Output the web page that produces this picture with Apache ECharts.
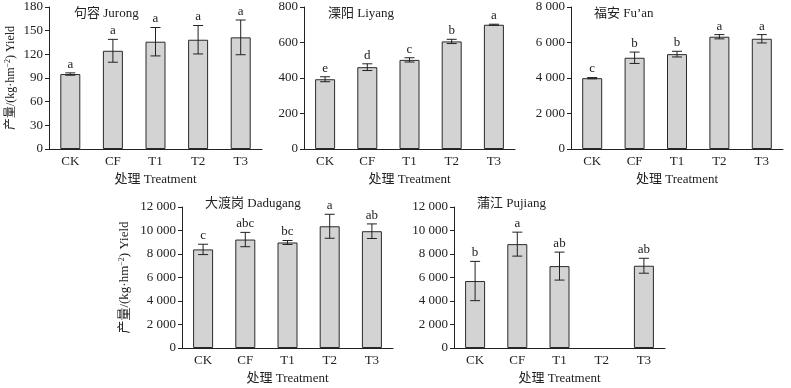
<!DOCTYPE html>
<html>
<head>
<meta charset="utf-8">
<script src="https://cdn.jsdelivr.net/npm/echarts@6/dist/echarts.min.js"></script>
<style>
  html, body { margin: 0; padding: 0; background: #fff; }
  #chart { width: 791px; height: 388px; }
</style>
</head>
<body>
<div id="chart"></div>
<script>
const categories = ["CK", "CF", "T1", "T2", "T3"];

// 句容 Jurong
const jurongMean = [95, 124.5, 136, 138.5, 141.5];
const jurongErr = [1.5, 14.5, 18, 18, 22];
const jurongSig = ["a", "a", "a", "a", "a"];

// 溧阳 Liyang
const liyangMean = [393, 461, 502, 606, 700];
const liyangErr = [14, 19, 12, 12, 3];
const liyangSig = ["e", "d", "c", "b", "a"];

// 福安 Fu'an
const fuanMean = [3990, 5140, 5345, 6325, 6210];
const fuanErr = [35, 320, 160, 120, 235];
const fuanSig = ["c", "b", "b", "a", "a"];

// 大渡岗 Dadugang
const dadugangMean = [8390, 9230, 8980, 10360, 9940];
const dadugangErr = [440, 610, 170, 1020, 620];
const dadugangSig = ["c", "abc", "bc", "a", "ab"];

// 蒲江 Pujiang (no T2)
const pujiangMean = [5700, 8840, 6970, null, 7000];
const pujiangErr = [1670, 1020, 1190, null, 635];
const pujiangSig = ["b", "a", "ab", "", "ab"];

const FONT = "'Liberation Serif', 'Noto Sans CJK SC', serif";
const INK = "#222";

const panels = [
  { title: "句容 Jurong", mean: jurongMean, err: jurongErr, sig: jurongSig, max: 180, interval: 30,
    grid: { left: 49, top: 7, width: 213, height: 142 }, titlePos: [74, 7], yName: 12 },
  { title: "溧阳 Liyang", mean: liyangMean, err: liyangErr, sig: liyangSig, max: 800, interval: 200,
    grid: { left: 304, top: 7, width: 211, height: 142 }, titlePos: [328, 7] },
  { title: "福安 Fu’an", mean: fuanMean, err: fuanErr, sig: fuanSig, max: 8000, interval: 2000,
    grid: { left: 571, top: 7, width: 212, height: 142 }, titlePos: [594, 7] },
  { title: "大渡岗 Dadugang", mean: dadugangMean, err: dadugangErr, sig: dadugangSig, max: 12000, interval: 2000,
    grid: { left: 182, top: 207, width: 211, height: 141 }, titlePos: [205, 197], yName: 13 },
  { title: "蒲江 Pujiang", mean: pujiangMean, err: pujiangErr, sig: pujiangSig, max: 12000, interval: 2000,
    grid: { left: 454, top: 207, width: 211, height: 141 }, titlePos: [477, 197] },
];

function fmt(v) {
  if (v >= 1000) {
    const s = String(v);
    return s.slice(0, s.length - 3) + " " + s.slice(s.length - 3);
  }
  return String(v);
}

function errRender(sig) {
  return function (params, api) {
    const m = api.value(1);
    const e = api.value(2);
    if (isNaN(m)) return;
    const i = api.value(0);
    const top = api.coord([i, m + e]);
    const bot = api.coord([i, m - e]);
    const cap = 5;
    const style = { stroke: INK, lineWidth: 1 };
    return {
      type: "group",
      children: [
        { type: "line", shape: { x1: top[0], y1: top[1], x2: bot[0], y2: bot[1] }, style: style },
        { type: "line", shape: { x1: top[0] - cap, y1: top[1], x2: top[0] + cap, y2: top[1] }, style: style },
        { type: "line", shape: { x1: bot[0] - cap, y1: bot[1], x2: bot[0] + cap, y2: bot[1] }, style: style },
        {
          type: "text",
          x: top[0],
          y: top[1] - 2,
          style: { text: sig[params.dataIndex], align: "center", verticalAlign: "bottom",
                   font: "13px " + FONT, fill: INK },
        },
      ],
    };
  };
}

const chart = echarts.init(document.getElementById("chart"));

const option = {
  animation: false,
  backgroundColor: "#fff",
  title: panels.map((p) => ({
    text: p.title,
    left: p.titlePos[0],
    top: p.titlePos[1],
    padding: 0,
    textStyle: { fontFamily: FONT, fontSize: 13, fontWeight: "normal", color: INK },
  })),
  grid: panels.map((p) => Object.assign({ outerBoundsMode: "none", containLabel: false }, p.grid)),
  xAxis: panels.map((p, k) => ({
    type: "category",
    gridIndex: k,
    data: categories,
    name: "处理 Treatment",
    nameLocation: "middle",
    nameGap: 24,
    nameTextStyle: { fontFamily: FONT, fontSize: 13, color: INK },
    axisLine: { lineStyle: { color: INK, width: 1 } },
    axisTick: { inside: true, length: 4, lineStyle: { color: INK } },
    axisLabel: { fontFamily: FONT, fontSize: 13, color: INK, margin: 6 },
    splitLine: { show: false },
  })),
  yAxis: panels.map((p, k) => ({
    type: "value",
    gridIndex: k,
    min: 0,
    max: p.max,
    interval: p.interval,
    name: p.yName ? "产量/(kg·hm{sup|−2}) Yield" : "",
    nameLocation: "middle",
    nameRotate: 90,
    nameGap: k === 0 ? 31 : 50,
    nameTextStyle: {
      fontFamily: FONT, fontSize: p.yName || 13, color: INK,
      rich: { sup: { fontFamily: FONT, fontSize: 8, color: INK, verticalAlign: "top", padding: [0, 0, 6, 0] } },
    },
    axisLine: { show: true, lineStyle: { color: INK, width: 1 } },
    axisTick: { show: true, length: 4, lineStyle: { color: INK } },
    axisLabel: { fontFamily: FONT, fontSize: 13, color: INK, margin: 6, formatter: fmt },
    splitLine: { show: false },
  })),
  series: panels.flatMap((p, k) => [
    {
      type: "bar",
      xAxisIndex: k,
      yAxisIndex: k,
      data: p.mean,
      barWidth: 20,
      itemStyle: { color: "#d3d3d3", borderColor: "#2a2a2a", borderWidth: 1 },
      silent: true,
    },
    {
      type: "custom",
      xAxisIndex: k,
      yAxisIndex: k,
      renderItem: errRender(p.sig),
      data: categories.map((c, i) => [i, p.mean[i], p.err[i]]),
      z: 5,
      silent: true,
    },
  ]),
};

chart.setOption(option);
</script>
</body>
</html>
